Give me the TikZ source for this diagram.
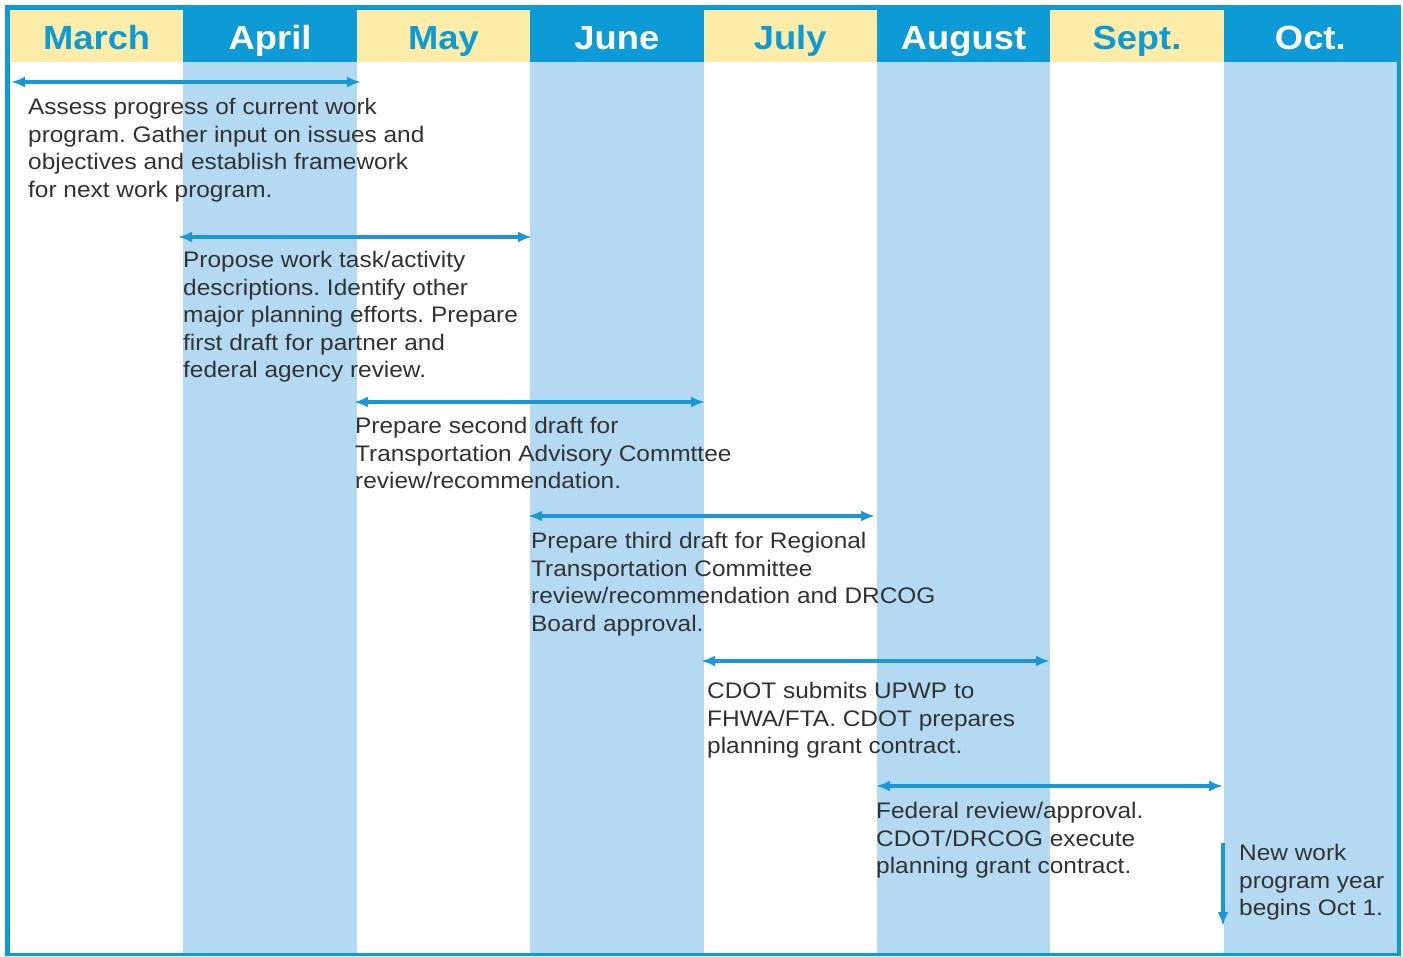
\documentclass[tikz,border=0pt]{standalone}
\usepackage{fontspec}
\setmainfont{Liberation Sans}[FakeStretch=1.085]
\usetikzlibrary{positioning, arrows.meta}
\definecolor{hdblue}{RGB}{12,155,215}
\definecolor{hdyellow}{RGB}{253,236,168}
\definecolor{colblue}{RGB}{180,218,243}
\definecolor{arrblue}{RGB}{26,152,213}
\definecolor{txtgray}{RGB}{50,50,50}
\frenchspacing

\begin{document}
\begin{tikzpicture}[x=1pt,y=-1pt,
    head/.style={inner sep=0pt, outer sep=0pt,
        minimum width=173.375pt, minimum height=52pt,
        text height=28pt, text depth=2pt,
        font=\fontsize{33.5}{36}\selectfont\bfseries},
    yhead/.style={head, fill=hdyellow, text=hdblue},
    bhead/.style={head, fill=hdblue, text=white},
    col/.style={inner sep=0pt, outer sep=0pt,
        minimum width=173.375pt, minimum height=891pt},
    task/.style={anchor=north west, inner sep=0pt, align=left,
        text=txtgray, font=\fontsize{22.5}{27.5}\selectfont\frenchspacing},
    spanarrow/.style={draw=arrblue, line width=3.5pt,
        {Latex[length=14pt,width=11pt]}-{Latex[length=14pt,width=11pt]}}]
    \useasboundingbox (0,0) rectangle (1403,956);
    % frame
    \fill[hdblue] (5,5) rectangle (1401,956);
    % the month headers
    \node[yhead, anchor=north west] (hMar) at (10,10) {March};
    \node[bhead, right=0pt of hMar] (hApr) {April};
    \node[yhead, right=0pt of hApr] (hMay) {May};
    \node[bhead, right=0pt of hMay] (hJun) {June};
    \node[yhead, right=0pt of hJun] (hJul) {July};
    \node[bhead, right=0pt of hJul] (hAug) {August};
    \node[yhead, right=0pt of hAug] (hSep) {Sept.};
    \node[bhead, right=0pt of hSep] (hOct) {Oct.};
    % the month columns
    \node[col, fill=white, below=0pt of hMar] (bMar) {};
    \node[col, fill=colblue, below=0pt of hApr] (bApr) {};
    \node[col, fill=white, below=0pt of hMay] (bMay) {};
    \node[col, fill=colblue, below=0pt of hJun] (bJun) {};
    \node[col, fill=white, below=0pt of hJul] (bJul) {};
    \node[col, fill=colblue, below=0pt of hAug] (bAug) {};
    \node[col, fill=white, below=0pt of hSep] (bSep) {};
    \node[col, fill=colblue, below=0pt of hOct] (bOct) {};

    % the tasks
    \node[task] (t1) at (28,98) {Assess progress of current work\\
        program. Gather input on issues and\\
        objectives and establish framework\\
        for next work program.};
    \node[task] (t2) at (183,251) {Propose work task/activity\\
        descriptions. Identify other\\
        major planning efforts. Prepare\\
        first draft for partner and\\
        federal agency review.};
    \node[task] (t3) at (355,417) {Prepare second draft for\\
        Transportation Advisory Commttee\\
        review/recommendation.};
    \node[task] (t4) at (531,532) {Prepare third draft for Regional\\
        Transportation Committee\\
        review/recommendation and DRCOG\\
        Board approval.};
    \node[task] (t5) at (707,682) {CDOT submits UPWP to\\
        FHWA/FTA. CDOT prepares\\
        planning grant contract.};
    \node[task] (t6) at (876,802) {Federal review/approval.\\
        CDOT/DRCOG execute\\
        planning grant contract.};
    \node[task] (t7) at (1239,844) {New work\\
        program year\\
        begins Oct 1.};

    % the spans
    \coordinate (s1a) at (11,82);   \coordinate (s1b) at (361,82);
    \coordinate (s2a) at (178,237); \coordinate (s2b) at (532,237);
    \coordinate (s3a) at (354,402); \coordinate (s3b) at (705,402);
    \coordinate (s4a) at (528,516); \coordinate (s4b) at (875,516);
    \coordinate (s5a) at (701,661); \coordinate (s5b) at (1050,661);
    \coordinate (s6a) at (876,786); \coordinate (s6b) at (1223,786);
    \coordinate (s7a) at (1223,843); \coordinate (s7b) at (1223,926);
    \draw[spanarrow] (s1a) -- (s1b);
    \draw[spanarrow] (s2a) -- (s2b);
    \draw[spanarrow] (s3a) -- (s3b);
    \draw[spanarrow] (s4a) -- (s4b);
    \draw[spanarrow] (s5a) -- (s5b);
    \draw[spanarrow] (s6a) -- (s6b);
    \draw[draw=arrblue, line width=3.5pt,
        -{Latex[length=14pt,width=11pt]}] (s7a) -- (s7b);
\end{tikzpicture}
\end{document}
